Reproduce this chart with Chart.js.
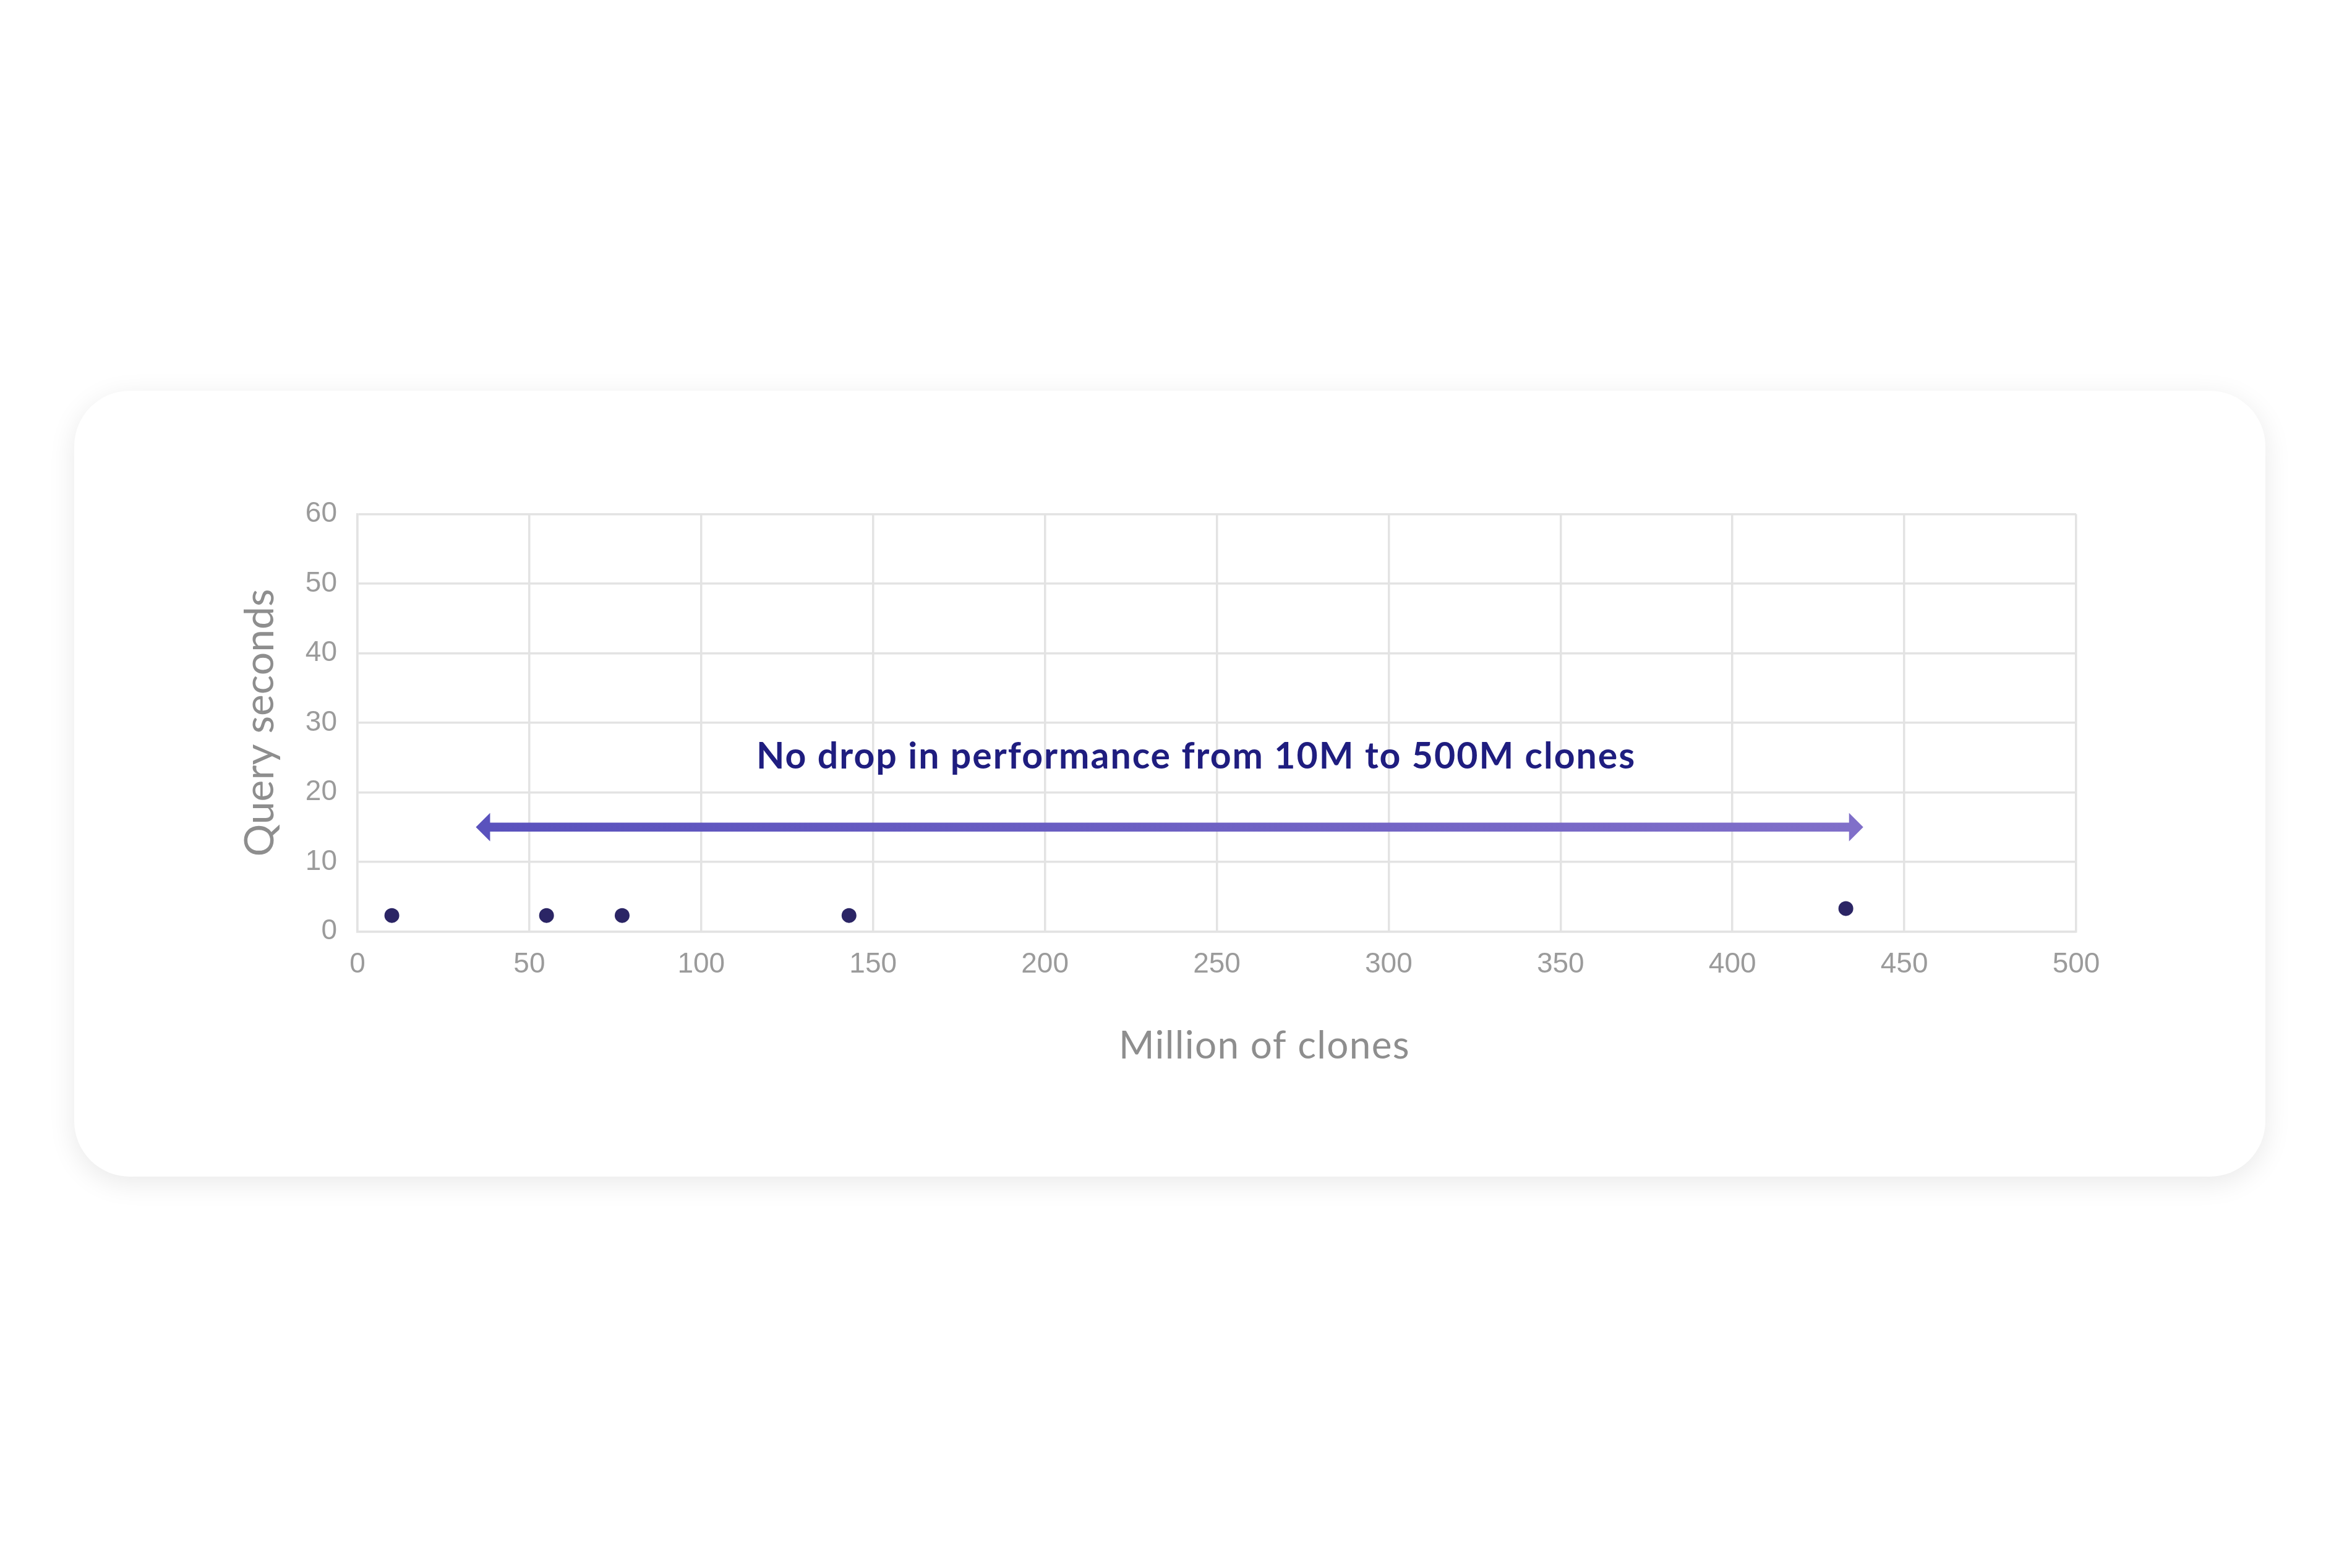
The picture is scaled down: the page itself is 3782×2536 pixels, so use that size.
<!DOCTYPE html>
<html>
<head>
<meta charset="utf-8">
<script src="https://cdn.jsdelivr.net/npm/chart.js@4.4.1/dist/chart.umd.min.js"></script>
<style>
    html, body { margin: 0; padding: 0; background: #ffffff; }
    body { width: 3782px; height: 2536px; position: relative; overflow: hidden; }
    #card {
        position: absolute;
        left: 120px; top: 632px;
        width: 3543px; height: 1271px;
        background: #ffffff;
        border-radius: 90px;
        box-shadow: 0 10px 45px rgba(0, 0, 0, 0.09);
    }
    #cloneChart { position: absolute; left: 0; top: 0; }
</style>
</head>
<body>
<div id="card">
    <canvas id="cloneChart" width="3543" height="1271"></canvas>
</div>
<script>
// data
const clonesMillions = [10, 55, 77, 143, 433];
const querySeconds = [2.3, 2.3, 2.3, 2.3, 3.3];

const xTicks = [0, 50, 100, 150, 200, 250, 300, 350, 400, 450, 500];
const yTicks = [0, 10, 20, 30, 40, 50, 60];

// the arrow shaft runs between these x values at arrowY
const arrowX = [38.4, 434.1];
const arrowY = [15, 15];

const noteText = "No drop in performance from 10M to 500M clones";
const noteX = 244;
const noteY = 23.45;

const xTitle = "Million of clones";
const yTitle = "Query seconds";

const tickFont = { family: "'Liberation Sans', Arial, sans-serif", size: 46 };
const gridColor = "#e3e3e3";

const extrasPlugin = {
    id: "extras",
    afterDatasetsDraw(chart) {
        const { ctx, chartArea, scales } = chart;
        const xs = scales.x, ys = scales.y;
        ctx.save();

        // arrow heads at both ends of the shaft
        const yPix = ys.getPixelForValue(arrowY[0]);
        const left = xs.getPixelForValue(arrowX[0]);
        const right = xs.getPixelForValue(arrowX[1]);
        const headLen = 22, headHalf = 23;
        ctx.fillStyle = "#5a52bd";
        ctx.beginPath();
        ctx.moveTo(left + 1, yPix - headHalf);
        ctx.lineTo(left - headLen, yPix);
        ctx.lineTo(left + 1, yPix + headHalf);
        ctx.closePath();
        ctx.fill();
        ctx.fillStyle = "#806fc9";
        ctx.beginPath();
        ctx.moveTo(right - 1, yPix - headHalf);
        ctx.lineTo(right + headLen, yPix);
        ctx.lineTo(right - 1, yPix + headHalf);
        ctx.closePath();
        ctx.fill();

        // annotation
        ctx.fillStyle = "#1f1d7f";
        ctx.font = "bold 59px Lato, 'Open Sans', sans-serif";
        ctx.letterSpacing = "2px";
        ctx.textAlign = "center";
        ctx.textBaseline = "alphabetic";
        ctx.fillText(noteText, xs.getPixelForValue(noteX), ys.getPixelForValue(noteY));

        // axis titles
        ctx.fillStyle = "#8e8e8e";
        ctx.font = "62px Lato, 'Open Sans', sans-serif";
        ctx.letterSpacing = "1.4px";
        const cx = (chartArea.left + chartArea.right) / 2 + 77;
        ctx.fillText(xTitle, cx, chartArea.bottom + 205.5);

        ctx.font = "66px Lato, 'Open Sans', sans-serif";
        ctx.letterSpacing = "0px";
        ctx.translate(chartArea.left - 136, (chartArea.top + chartArea.bottom) / 2);
        ctx.rotate(-Math.PI / 2);
        ctx.fillText(yTitle, 0, 0);
        ctx.restore();
    },
};

document.addEventListener("DOMContentLoaded", function () {
    try {
        const ctx = document.getElementById("cloneChart").getContext("2d");
        new Chart(ctx, {
            type: "scatter",
            data: {
                datasets: [
                    {
                        label: "Arrow",
                        type: "line",
                        data: arrowX.map((x, i) => ({ x: x, y: arrowY[i] })),
                        borderColor: function (context) {
                            const chart = context.chart;
                            if (!chart.chartArea) return "#6c60c4";
                            const xs = chart.scales.x;
                            const g = chart.ctx.createLinearGradient(
                                xs.getPixelForValue(arrowX[0]), 0,
                                xs.getPixelForValue(arrowX[1]), 0
                            );
                            g.addColorStop(0, "#5a52bd");
                            g.addColorStop(1, "#806fc9");
                            return g;
                        },
                        borderWidth: 14.5,
                        borderCapStyle: "butt",
                        pointRadius: 0,
                        pointHoverRadius: 0,
                        fill: false,
                        order: 2,
                    },
                    {
                        label: "Query time",
                        data: clonesMillions.map((x, i) => ({ x: x, y: querySeconds[i] })),
                        backgroundColor: "#2b2565",
                        borderWidth: 0,
                        pointRadius: 12,
                        pointHoverRadius: 12,
                        order: 1,
                    },
                ],
            },
            options: {
                responsive: false,
                animation: false,
                devicePixelRatio: 1,
                layout: { padding: { top: 199.5, right: 306, bottom: 0, left: 0 } },
                plugins: {
                    legend: { display: false },
                    tooltip: { enabled: false },
                },
                scales: {
                    x: {
                        type: "linear",
                        min: xTicks[0],
                        max: xTicks[xTicks.length - 1],
                        afterBuildTicks: (scale) => { scale.ticks = xTicks.map((v) => ({ value: v })); },
                        afterFit: (scale) => { scale.height = 396.5; },
                        ticks: { font: tickFont, color: "#9b9b9b", padding: 26, maxRotation: 0 },
                        grid: { color: gridColor, lineWidth: 3.5, drawTicks: false },
                        border: { color: gridColor, width: 3.5 },
                    },
                    y: {
                        type: "linear",
                        min: yTicks[0],
                        max: yTicks[yTicks.length - 1],
                        afterBuildTicks: (scale) => { scale.ticks = yTicks.map((v) => ({ value: v })); },
                        afterFit: (scale) => { scale.width = 458; },
                        ticks: { font: tickFont, color: "#9b9b9b", padding: 33 },
                        grid: { color: gridColor, lineWidth: 3.5, drawTicks: false },
                        border: { color: gridColor, width: 3.5 },
                    },
                },
            },
            plugins: [extrasPlugin],
        });
    } catch (e) {
        console.error("Chart render failed:", e);
    }
});
</script>
</body>
</html>
